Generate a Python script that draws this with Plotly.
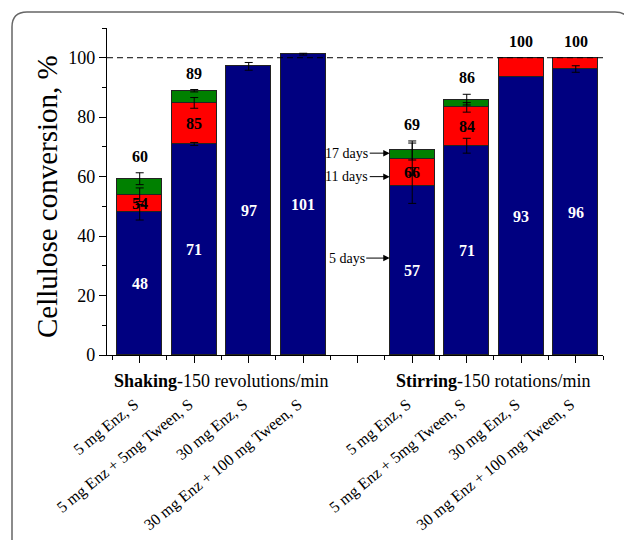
import plotly.graph_objects as go

# ---------------- data ----------------
shaking_conditions = ["5 mg Enz, S", "5 mg Enz + 5mg Tween, S", "30 mg Enz, S", "30 mg Enz + 100 mg Tween, S"]
stirring_conditions = ["5 mg Enz, S", "5 mg Enz + 5mg Tween, S", "30 mg Enz, S", "30 mg Enz + 100 mg Tween, S"]
group_names = ["Shaking", "Stirring"]
group_suffix = ["-150 revolutions/min", "-150 rotations/min"]

# cumulative conversion (%) after 5, 11 and 17 days (shaking bars then stirring bars)
day5 = [48.0, 71.0, 97.1, 101.2, 57.0, 70.4, 93.4, 96.2]
day11 = [53.9, 84.8, None, None, 65.9, 83.3, 100.0, 100.0]
day17 = [59.3, 88.9, None, None, 68.8, 85.9, None, None]
err5 = [2.6, 0.5, 1.3, 0.3, 6.0, 2.5, 0.0, 1.1]
err11 = [2.3, 1.8, None, None, 5.4, 1.6, 0.0, 0.0]
err17 = [2.0, 0.4, None, None, 3.2, 1.8, None, None]
label5 = ["48", "71", "97", "101", "57", "71", "93", "96"]
label11 = ["54", "85", None, None, "66", "84", None, None]
label_top = ["60", "89", None, None, "69", "86", "100", "100"]
day_names = ["5 days", "11 days", "17 days"]

y_ticks = [0, 20, 40, 60, 80, 100]

# ---------------- layout helpers ----------------
# the page body has an 8px default margin, so the figure is drawn 8px in and is 16px smaller
FONT = "Liberation Serif"
W, H = 624, 532
L, R, T, B = 99, 29, 20, 185
PW, PH = W - L - R, H - T - B
AX_L, AX_B = 107, 355  # plot-area left / bottom in window pixels


def px(xp):
    return (xp - AX_L) / PW


def py(yp):
    return (AX_B - yp) / PH


xpos = [0, 1, 2, 3, 5, 6, 7, 8]
categories = shaking_conditions + stirring_conditions
BW = 0.826

seg1 = day5
seg2 = [(b - a) if b is not None else 0 for a, b in zip(day5, day11)]
top11 = [b if b is not None else a for a, b in zip(day5, day11)]
seg3 = [(c - b) if c is not None else 0 for b, c in zip(top11, day17)]

fig = go.Figure()
line = dict(color="#222222", width=1)
fig.add_trace(go.Bar(x=xpos, y=seg1, width=BW, marker=dict(color="#000080", line=line), showlegend=False))
fig.add_trace(go.Bar(x=xpos, y=seg2, width=BW, marker=dict(color="#ff0000", line=line), showlegend=False))
fig.add_trace(go.Bar(x=xpos, y=seg3, width=BW, marker=dict(color="#008000", line=line), showlegend=False))

# error bars at cumulative tops
for vals, errs in [(day5, err5), (day11, err11), (day17, err17)]:
    xs, ys, es = [], [], []
    for x, v, e in zip(xpos, vals, errs):
        if v is not None and e:
            xs.append(x); ys.append(v); es.append(e)
    fig.add_trace(go.Scatter(x=xs, y=ys, mode="markers", marker=dict(opacity=0, size=1),
                             error_y=dict(type="data", array=es, color="black", thickness=1, width=4),
                             showlegend=False, hoverinfo="skip"))

ann = []
for x, v, lab in zip(xpos, day5, label5):
    ann.append(dict(x=x, y=v / 2, text="<b>%s</b>" % lab, showarrow=False,
                    font=dict(family=FONT, size=16, color="white")))
for x, a, b, lab in zip(xpos, day5, day11, label11):
    if lab:
        ann.append(dict(x=x, y=(a + b) / 2, text="<b>%s</b>" % lab, showarrow=False,
                        font=dict(family=FONT, size=16, color="black")))
for i, lab in enumerate(label_top):
    if lab:
        tops = [day5[i] + err5[i]]
        for v, e in [(day11[i], err11[i]), (day17[i], err17[i])]:
            if v is not None:
                tops.append(v + (e or 0))
        ann.append(dict(x=xpos[i], y=max(tops), text="<b>%s</b>" % lab, showarrow=False,
                        yanchor="bottom", yshift=6, font=dict(family=FONT, size=16, color="black")))

# day arrows pointing at the first stirring bar
arrow_y = [day5[4] * 0.572, day11[4] - 5.9, day17[4] - 0.9]
for name, yv in zip(day_names, arrow_y):
    ann.append(dict(x=xpos[4] - BW / 2, y=yv, ax=-43, ay=0, text=name, showarrow=True,
                    arrowhead=2, arrowsize=1.3, arrowwidth=1, arrowcolor="black",
                    font=dict(family=FONT, size=14, color="black")))

# group labels
for gi, (name, suf) in enumerate(zip(group_names, group_suffix)):
    xc = sum(xpos[gi * 4:gi * 4 + 4]) / 4
    ann.append(dict(x=xc, y=py(381), yref="paper", xanchor="center", yanchor="middle",
                    text="<b>%s</b>%s" % (name, suf), showarrow=False,
                    font=dict(family=FONT, size=18, color="black")))

# y title
ann.append(dict(x=px(47), y=py(197), xref="paper", yref="paper", xanchor="center", yanchor="middle",
                text="Cellulose conversion, %",
                textangle=-90, showarrow=False, font=dict(family=FONT, size=29, color="black")))

# rounded frame
x0, y0, x1, r = 12, 12, 630, 15
yb = 560
path = (f"M {px(x0)},{py(yb)} L {px(x0)},{py(y0 + r)} Q {px(x0)},{py(y0)} {px(x0 + r)},{py(y0)} "
        f"L {px(x1 - r)},{py(y0)} Q {px(x1)},{py(y0)} {px(x1)},{py(y0 + r)} L {px(x1)},{py(yb)}")
shapes = [
    dict(type="path", path=path, xref="paper", yref="paper", line=dict(color="#666666", width=1.5)),
    dict(type="line", xref="paper", x0=0, x1=1, y0=100, y1=100, yref="y",
         line=dict(color="black", width=1, dash="6px,4px")),
]

fig.update_layout(
    width=W, height=H, margin=dict(l=L, r=R, t=T, b=B, autoexpand=False),
    barmode="stack", bargap=0,
    paper_bgcolor="white", plot_bgcolor="white",
    annotations=ann, shapes=shapes,
    xaxis=dict(range=[-0.6, 8.5], tickmode="array", tickvals=list(range(9)),
               ticktext=categories[:4] + [""] + categories[4:], automargin=False,
               tickangle=-39, ticks="outside", ticklen=7, tickwidth=1, tickcolor="black",
               showline=True, linecolor="black", linewidth=1.2, showgrid=False, zeroline=False,
               ticklabelstandoff=26, ticklabelshift=-5,
               tickfont=dict(family=FONT, size=16, color="black"),
               minor=dict(tickmode="linear", tick0=0.5, dtick=1, ticks="outside", ticklen=4,
                          tickcolor="black", tickwidth=1)),
    yaxis=dict(range=[0, 110], tickmode="array", tickvals=y_ticks, ticks="outside", ticklen=7,
               automargin=False,
               tickwidth=1, tickcolor="black", showline=True, linecolor="black", linewidth=1.2,
               showgrid=False, zeroline=False, tickfont=dict(family=FONT, size=18, color="black"),
               minor=dict(tickmode="linear", tick0=10, dtick=20, ticks="outside", ticklen=4,
                          tickcolor="black", tickwidth=1)),
)

fig.write_html("out.html", config={"displayModeBar": False})
